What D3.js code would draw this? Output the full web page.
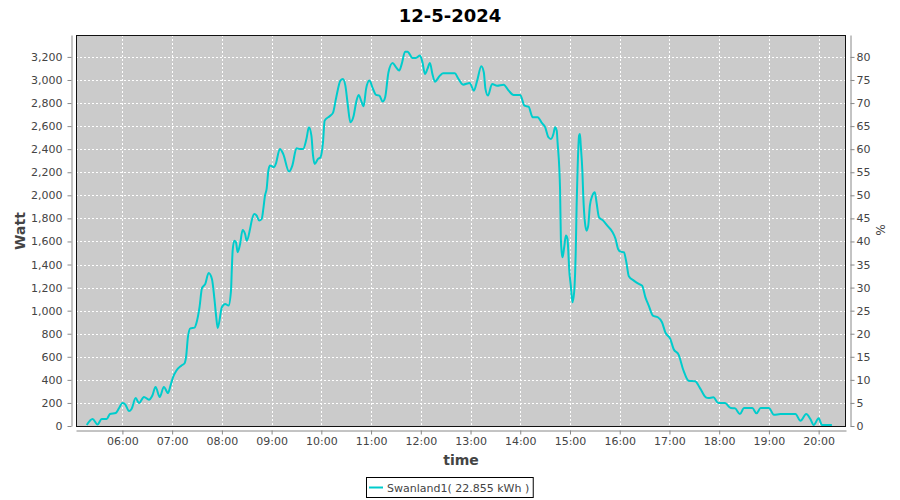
<!DOCTYPE html>
<html>
<head>
<meta charset="utf-8">
<script src="https://cdn.jsdelivr.net/npm/d3@7"></script>
<style>
  body { margin: 0; background: #ffffff; }
  svg { display: block; }
  text { font-family: "DejaVu Sans", Verdana, sans-serif; }
</style>
</head>
<body>
<svg id="chart" width="900" height="500"></svg>
<script>
// ---- data ----
const chartTitle = "12-5-2024";
const seriesName = "Swanland1( 22.855 kWh )";
const times = ["05:17","05:24","05:30","05:35","05:41","05:45","05:52","05:56","06:00","06:03","06:08","06:11","06:16","06:20","06:26","06:32","06:36","06:40","06:45","06:50","06:55","06:58","07:01","07:05","07:11","07:15","07:17","07:19","07:22","07:27","07:30","07:33","07:36","07:40","07:44","07:48","07:51","07:53","07:55","08:00","08:04","08:08","08:11","08:12","08:13","08:15","08:17","08:19","08:22","08:25","08:28","08:30","08:34","08:36","08:39","08:42","08:45","08:48","08:50","08:52","08:54","08:56","08:58","09:03","09:05","09:10","09:14","09:21","09:25","09:30","09:34","09:38","09:42","09:45","09:48","09:50","09:52","09:56","09:59","10:02","10:04","10:10","10:14","10:18","10:23","10:26","10:29","10:32","10:35","10:39","10:42","10:45","10:48","10:51","10:54","10:58","11:02","11:06","11:10","11:14","11:17","11:21","11:26","11:30","11:34","11:37","11:41","11:44","11:50","11:54","11:59","12:02","12:05","12:08","12:11","12:14","12:17","12:23","12:27","12:41","12:45","12:51","12:59","13:04","13:08","13:13","13:16","13:18","13:21","13:26","13:32","13:40","13:46","13:52","14:00","14:05","14:10","14:15","14:21","14:26","14:30","14:34","14:37","14:40","14:42","14:44","14:45","14:48","14:49","14:50","14:51","14:53","14:55","14:57","14:58","14:59","15:01","15:03","15:05","15:07","15:08","15:09","15:11","15:12","15:13","15:15","15:16","15:18","15:20","15:22","15:24","15:27","15:30","15:32","15:35","15:40","15:45","15:51","15:55","15:58","16:01","16:05","16:08","16:11","16:17","16:23","16:27","16:31","16:35","16:40","16:46","16:51","16:55","17:01","17:05","17:11","17:17","17:23","17:31","17:37","17:44","17:47","17:53","17:59","18:07","18:14","18:19","18:25","18:30","18:40","18:45","18:50","19:00","19:06","19:14","19:32","19:38","19:45","19:50","19:54","20:00","20:04","20:16"];
const watts = [0,52,5,52,52,95,104,147,190,182,121,139,234,190,243,219,254,330,243,330,277,341,413,471,514,535,601,760,838,844,904,1020,1186,1223,1318,1266,1093,948,841,1021,1049,1035,1165,1353,1512,1598,1584,1498,1570,1691,1656,1598,1700,1772,1830,1815,1772,1786,1873,1988,2047,2200,2249,2234,2263,2393,2350,2197,2249,2399,2393,2393,2480,2581,2509,2335,2263,2307,2321,2452,2639,2677,2706,2842,2986,3000,2942,2769,2625,2682,2799,2862,2812,2764,2914,2986,2920,2862,2856,2804,2842,3059,3139,3102,3073,3131,3237,3237,3183,3183,3203,3145,3044,3087,3139,3044,2977,3029,3050,3050,3006,2951,2966,2899,2986,3111,3059,2914,2856,2957,2942,2951,2899,2862,2862,2769,2760,2668,2668,2619,2582,2495,2480,2523,2582,2552,2452,2047,1613,1498,1454,1541,1642,1613,1498,1353,1208,1064,1151,1526,1902,2177,2509,2523,2422,2191,1989,1758,1685,1728,1902,1989,2018,1931,1801,1772,1728,1676,1613,1526,1503,1498,1411,1290,1252,1223,1208,1107,1035,948,934,891,804,746,659,610,471,384,379,318,240,234,240,191,191,147,145,95,147,147,101,147,147,89,95,95,37,95,52,0,58,0,0];
const leftTicks = [0,200,400,600,800,1000,1200,1400,1600,1800,2000,2200,2400,2600,2800,3000,3200];
const rightTicks = [0,5,10,15,20,25,30,35,40,45,50,55,60,65,70,75,80];
const hourTicks = ["06:00","07:00","08:00","09:00","10:00","11:00","12:00","13:00","14:00","15:00","16:00","17:00","18:00","19:00","20:00"];
const domainStart = "05:04", domainEnd = "20:33";
const leftMax = 3390, rightMax = 84.75;

// ---- layout ----
const P = { left: 76, right: 846, top: 35, bottom: 426 };
const svg = d3.select("#chart");
const parse = s => { const [h, m] = s.split(":").map(Number); return new Date(2024, 4, 12, h, m); };

const x = d3.scaleTime().domain([parse(domainStart), parse(domainEnd)]).range([P.left, P.right]);
const yL = d3.scaleLinear().domain([0, leftMax]).range([P.bottom, P.top]);
const yR = d3.scaleLinear().domain([0, rightMax]).range([P.bottom, P.top]);

const data = times.map((t, i) => ({ t: parse(t), v: watts[i] }));

// plot background
svg.append("rect").attr("x", P.left).attr("y", P.top)
  .attr("width", P.right - P.left).attr("height", P.bottom - P.top)
  .attr("fill", "#cbcbcb");

// gridlines
const grid = svg.append("g").attr("stroke", "#ffffff").attr("stroke-width", 1).attr("stroke-dasharray", "2,2");
hourTicks.forEach(h => {
  const xx = Math.round(x(parse(h))) + 0.5;
  grid.append("line").attr("x1", xx).attr("x2", xx).attr("y1", P.top).attr("y2", P.bottom);
});
leftTicks.forEach(v => {
  if (v === 0) return;
  const yy = Math.round(yL(v)) + 0.5;
  grid.append("line").attr("x1", P.left).attr("x2", P.right).attr("y1", yy).attr("y2", yy);
});

// series line
svg.append("clipPath").attr("id", "clip").append("rect")
  .attr("x", P.left).attr("y", P.top).attr("width", P.right - P.left).attr("height", P.bottom - P.top);
svg.append("path").datum(data)
  .attr("clip-path", "url(#clip)")
  .attr("fill", "none").attr("stroke", "#00cccc").attr("stroke-width", 2)
  .attr("stroke-linejoin", "round")
  .attr("d", d3.line().x(d => x(d.t)).y(d => yL(d.v) - 1).curve(d3.curveMonotoneX));

// plot border
svg.append("rect").attr("x", P.left + 0.5).attr("y", P.top + 0.5)
  .attr("width", P.right - P.left - 1).attr("height", P.bottom - P.top)
  .attr("fill", "none").attr("stroke", "#111111").attr("stroke-width", 1);

// axes
const tickFont = g => g.selectAll("text").attr("font-size", 11).attr("fill", "#444444")
  .attr("font-family", "'DejaVu Sans', Verdana, sans-serif");
const axisStyle = g => { g.select(".domain").attr("stroke", "#888888"); g.selectAll(".tick line").attr("stroke", "#888888"); };

const gL = svg.append("g").attr("transform", "translate(71.5,0)")
  .call(d3.axisLeft(yL).tickValues(leftTicks).tickSize(4).tickSizeOuter(0).tickPadding(5).tickFormat(d3.format(",")));
gL.call(tickFont).call(axisStyle);

const gR = svg.append("g").attr("transform", "translate(850.5,0)")
  .call(d3.axisRight(yR).tickValues(rightTicks).tickSize(4).tickSizeOuter(0).tickPadding(2).tickFormat(d3.format("d")));
gR.call(tickFont).call(axisStyle);

const gX = svg.append("g").attr("transform", "translate(0,430.5)")
  .call(d3.axisBottom(x).tickValues(hourTicks.map(parse)).tickSize(4).tickSizeOuter(0).tickPadding(3).tickFormat(d3.timeFormat("%H:%M")));
gX.call(tickFont).call(axisStyle);

// title & axis labels
svg.append("text").attr("x", 450).attr("y", 22).attr("text-anchor", "middle")
  .attr("font-size", 18).attr("font-weight", "bold").attr("fill", "#000").text(chartTitle);
svg.append("text").attr("transform", "translate(25,231) rotate(-90)").attr("text-anchor", "middle")
  .attr("font-size", 14).attr("font-weight", "bold").attr("fill", "#444444").text("Watt");
svg.append("text").attr("transform", "translate(876,230) rotate(90)").attr("text-anchor", "middle")
  .attr("font-size", 12).attr("fill", "#444444").text("%");
svg.append("text").attr("x", 461).attr("y", 465).attr("text-anchor", "middle")
  .attr("font-size", 14).attr("font-weight", "bold").attr("fill", "#444444").text("time");

// legend
const lg = svg.append("g");
const lt = lg.append("text").attr("x", 387).attr("y", 492).attr("font-size", 11).attr("fill", "#444444").text(seriesName);
const tw = lt.node().getComputedTextLength();
lg.insert("rect", "text").attr("x", 366.5).attr("y", 477.5).attr("width", 387 + tw + 4 - 366.5).attr("height", 20)
  .attr("fill", "#ffffff").attr("stroke", "#000000").attr("stroke-width", 1);
lg.append("line").attr("x1", 369).attr("x2", 383).attr("y1", 487.5).attr("y2", 487.5)
  .attr("stroke", "#00cccc").attr("stroke-width", 2);
</script>
</body>
</html>
